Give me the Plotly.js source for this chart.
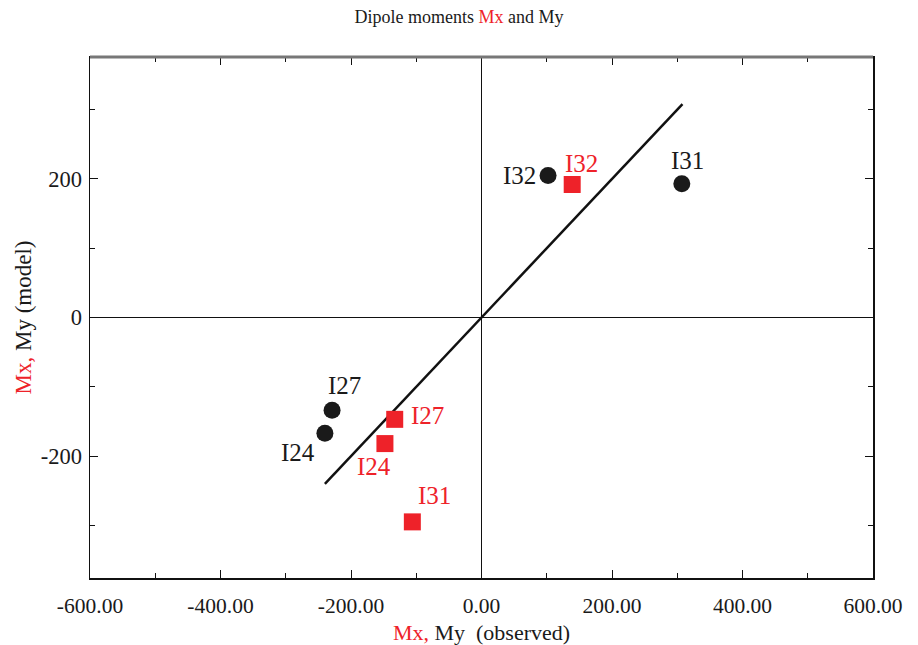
<!DOCTYPE html>
<html><head><meta charset="utf-8">
<script src="https://cdn.plot.ly/plotly-3.0.1.min.js"></script>
<style>body{margin:0;background:#fff}#chart{width:918px;height:645px}</style>
</head><body><div id="chart"></div>
<script>
const labels = ["I32", "I31", "I27", "I24"];
const myObserved = [102, 307, -229, -240];
const myModel = [205, 193, -134, -167];
const mxObserved = [139, -106, -133, -148];
const mxModel = [192, -295, -147, -182];
const mxLabels = ["I32", "I31", "I27", "I24"];
const fitX = [-240, 308];
const fitY = [-240, 308];
const xTicks = [-600, -400, -200, 0, 200, 400, 600];
const xTickText = ["-600.00", "-400.00", "-200.00", "0.00", "200.00", "400.00", "600.00"];
const yTicks = [-200, 0, 200];
const yTickText = ["-200", "0", "200"];

// label pixel offsets (style only)
const myShift = [[-10, 0, 'right'], [6, 23, 'center'], [12, 25, 'center'], [-27, -19, 'center']];
const mxShift = [[9, 21, 'center'], [22, 26, 'center'], [14, 4, 'left'], [-11, -23, 'center']];

const RED = '#ee2229';
const INK = '#1a1a1a';
const FONT = 'Liberation Serif, Times New Roman, serif';

const traces = [
  {x: fitX, y: fitY, mode: 'lines', line: {color: '#111', width: 2.5}, hoverinfo: 'skip'},
  {x: myObserved, y: myModel, mode: 'markers',
   marker: {symbol: 'circle', size: 17, color: INK}},
  {x: mxObserved, y: mxModel, mode: 'markers',
   marker: {symbol: 'square', size: 17, color: RED}}
];

const annotations = [];
labels.forEach((t, i) => annotations.push({x: myObserved[i], y: myModel[i], xref: 'x', yref: 'y', text: t,
  showarrow: false, xanchor: myShift[i][2], yanchor: 'middle', xshift: myShift[i][0], yshift: myShift[i][1],
  font: {family: FONT, size: 25, color: INK}}));
mxLabels.forEach((t, i) => annotations.push({x: mxObserved[i], y: mxModel[i], xref: 'x', yref: 'y', text: t,
  showarrow: false, xanchor: mxShift[i][2], yanchor: 'middle', xshift: mxShift[i][0], yshift: mxShift[i][1],
  font: {family: FONT, size: 25, color: RED}}));

const layout = {
  width: 918, height: 645,
  margin: {l: 90, r: 45, t: 57, b: 67},
  showlegend: false,
  paper_bgcolor: '#fff', plot_bgcolor: '#fff',
  font: {family: FONT, color: INK},
  title: {text: 'Dipole moments <span style="color:' + RED + '">Mx</span> and My',
          font: {family: FONT, size: 18, color: INK}, x: 0.5, xanchor: 'center', y: 0.974, yanchor: 'middle'},
  xaxis: {range: [-600, 600], tickvals: xTicks, ticktext: xTickText, ticks: 'inside', ticklen: 8, tickwidth: 1,
          tickcolor: '#111', minor: {dtick: 100, tick0: 0, ticks: 'inside', ticklen: 5, tickcolor: '#111', showgrid: false},
          showline: true, linecolor: '#111', linewidth: 1.5, mirror: 'ticks', showgrid: false,
          zeroline: true, zerolinecolor: '#111', zerolinewidth: 1, ticklabelstandoff: 8,
          tickfont: {family: FONT, size: 21.5, color: INK},
          title: {text: '<span style="color:' + RED + '">Mx,</span> My  (observed)', font: {family: FONT, size: 22, color: INK}, standoff: 8}},
  yaxis: {range: [-376, 376], tickvals: yTicks, ticktext: yTickText, ticks: 'inside', ticklen: 8, tickwidth: 1,
          tickcolor: '#111', minor: {dtick: 100, tick0: 0, ticks: 'inside', ticklen: 5, tickcolor: '#111', showgrid: false},
          showline: true, linecolor: '#111', linewidth: 1.5, mirror: 'ticks', showgrid: false,
          zeroline: true, zerolinecolor: '#111', zerolinewidth: 1, ticklabelstandoff: 2,
          tickfont: {family: FONT, size: 22.5, color: INK},
          title: {text: '<span style="color:' + RED + '">Mx,</span> My (model)', font: {family: FONT, size: 23, color: INK}, standoff: 2}},
  annotations: annotations,
  shapes: [{type: 'line', xref: 'paper', yref: 'paper', x0: 0, x1: 1, y0: 1, y1: 1, line: {color: '#777', width: 3}}]
};

Plotly.newPlot('chart', traces, layout, {displayModeBar: false, staticPlot: true});
</script></body></html>
